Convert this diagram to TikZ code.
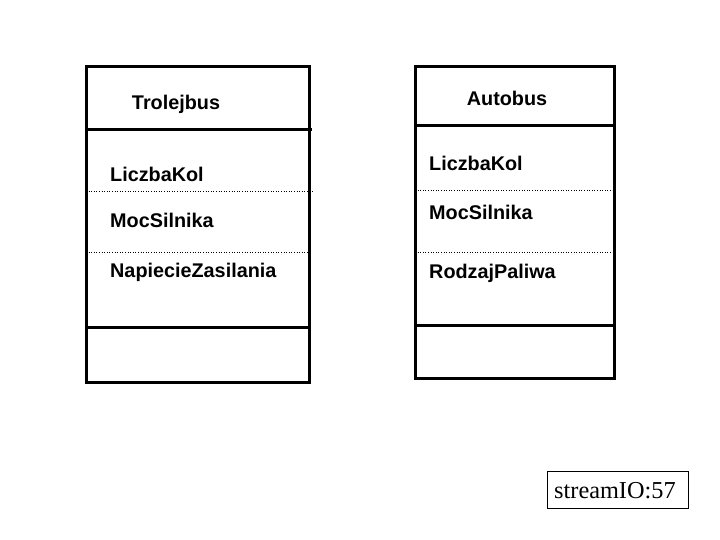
\documentclass[tikz,border=0pt]{standalone}
\usepackage{fontspec}
\setmainfont{Liberation Serif}
\setsansfont{Liberation Sans}
\usetikzlibrary{positioning,calc}

\tikzset{
  klasa/.style={line width=3pt},
  sep/.style={line width=0.6pt, dotted},
  pole/.style={anchor=base west, inner sep=0pt, font=\sffamily\bfseries\fontsize{19.8}{20}\selectfont},
  nazwa/.style={anchor=base, inner sep=0pt, font=\sffamily\bfseries\fontsize{19.8}{20}\selectfont}
}

\begin{document}
\begin{tikzpicture}[x=1pt, y=-1pt]
        \useasboundingbox (0,0) rectangle (720,540);

        % Trolejbus
        \draw[klasa] (86,67) rectangle (309,382);
        \draw[klasa] (86,130) -- (312,130);
        \draw[klasa] (86,327) -- (309,327);
        \draw[sep] (86,191) -- (313,191);
        \draw[sep] (86,252) -- (309,252);
        \node[nazwa] (trolejbus) at (176,110) {Trolejbus};
        \node[pole] (t1) at (110,182) {LiczbaKol};
        \node[pole] (t2) at (110,228) {MocSilnika};
        \node[pole] (t3) at (110,277) {NapiecieZasilania};

        % Autobus
        \draw[klasa] (415,67) rectangle (614,378);
        \draw[klasa] (415,126) -- (614,126);
        \draw[klasa] (415,325) -- (614,325);
        \draw[sep] (415,190) -- (614,190);
        \draw[sep] (415,252) -- (614,252);
        \node[nazwa] (autobus) at (507,106) {Autobus};
        \node[pole] (a1) at (429,171) {LiczbaKol};
        \node[pole] (a2) at (429,219) {MocSilnika};
        \node[pole] (a3) at (429,278) {RodzajPaliwa};

        % stopka
        \draw[line width=0.8pt] (547,471) rectangle (688,508);
        \node[anchor=base west, inner sep=0pt, font=\fontsize{24.3}{25}\selectfont] (stopka) at (554,498) {streamIO:57};
\end{tikzpicture}
\end{document}
